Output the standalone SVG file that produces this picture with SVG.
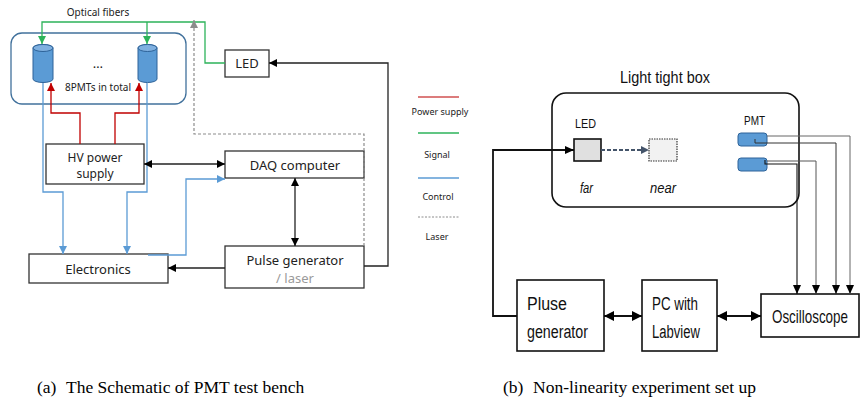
<svg xmlns="http://www.w3.org/2000/svg" width="861" height="403" viewBox="0 0 861 403">
<defs>
<marker id="ak" markerUnits="userSpaceOnUse" markerWidth="9" markerHeight="9" refX="8" refY="4" orient="auto-start-reverse"><path d="M0,0 L8,4 L0,8 z" fill="#000"/></marker>
<marker id="ab" markerUnits="userSpaceOnUse" markerWidth="9" markerHeight="9" refX="8" refY="4" orient="auto"><path d="M0,0 L8,4 L0,8 z" fill="#5B9BD5"/></marker>
<marker id="ag" markerUnits="userSpaceOnUse" markerWidth="9" markerHeight="9" refX="8" refY="4" orient="auto"><path d="M0,0 L8,4 L0,8 z" fill="#2DB35A"/></marker>
<marker id="ar" markerUnits="userSpaceOnUse" markerWidth="9" markerHeight="9" refX="8" refY="4" orient="auto"><path d="M0,0 L8,4 L0,8 z" fill="#C00000"/></marker>
<marker id="ay" markerUnits="userSpaceOnUse" markerWidth="9" markerHeight="9" refX="8" refY="4" orient="auto"><path d="M0,0 L8,4 L0,8 z" fill="#8C8C8C"/></marker>
<marker id="as" markerUnits="userSpaceOnUse" markerWidth="9" markerHeight="9" refX="8" refY="4" orient="auto"><path d="M0,0 L8,4 L0,8 z" fill="#44546A"/></marker>
<marker id="ad" markerUnits="userSpaceOnUse" markerWidth="10" markerHeight="12" refX="9" refY="4" orient="auto"><path d="M0,0 L9,4 L0,8 z" fill="#000"/></marker>
<marker id="aw" markerUnits="userSpaceOnUse" markerWidth="11" markerHeight="11" refX="10" refY="5" orient="auto-start-reverse"><path d="M0,0 L10,5 L0,10 z" fill="#000"/></marker>
</defs>
<style>
.box{fill:#fff;stroke:#333;stroke-width:1.3}
.t{font-family:"Noto Sans","Open Sans",sans-serif;fill:#222;text-anchor:middle}
.n{font-family:"Liberation Sans Narrow","Liberation Sans",sans-serif;fill:#111}
.k{fill:none;stroke:#222;stroke-width:1.3}
.bl{fill:none;stroke:#5B9BD5;stroke-width:1.3}
.gr{fill:none;stroke:#2DB35A;stroke-width:1.3}
.rd{fill:none;stroke:#C00000;stroke-width:1.3}
.ls{fill:none;stroke:#8C8C8C;stroke-width:1.2;stroke-dasharray:3,2}
.pmt{fill:#5B9BD5;stroke:#2E6399;stroke-width:1}
.cap{font-family:"Liberation Serif",serif;font-size:17.5px;fill:#000}
</style>

<!-- ===== (a) ===== -->
<g id="pmt-enclosure">
<rect x="11" y="33" width="175" height="71" rx="11" fill="none" stroke="#41719C" stroke-width="1.3"/>
<path class="pmt" d="M33,48 V79 A10,3.5 0 0 0 53,79 V48 A10,3.5 0 0 0 33,48 z"/>
<ellipse cx="43" cy="48" rx="10" ry="3.5" fill="#7FB0E0" stroke="#2E6399" stroke-width="1"/>
<path class="pmt" d="M138,48 V79 A9.5,3.5 0 0 0 157,79 V48 A9.5,3.5 0 0 0 138,48 z"/>
<ellipse cx="147.5" cy="48" rx="9.5" ry="3.5" fill="#7FB0E0" stroke="#2E6399" stroke-width="1"/>
<text class="t" x="98" y="68" font-size="13">…</text>
<text class="t" x="98" y="91" font-size="10">8PMTs in total</text>
</g>
<text class="t" x="98" y="16" font-size="10">Optical fibers</text>

<g id="led-a"><rect class="box" x="225" y="50" width="44" height="27"/><text class="t" x="247" y="68" font-size="13">LED</text></g>
<g id="hv"><rect class="box" x="46" y="144" width="98" height="40"/><text class="t" x="95" y="162" font-size="12">HV power</text><text class="t" x="95" y="178" font-size="12">supply</text></g>
<g id="daq"><rect class="box" x="225" y="151" width="139" height="27"/><text class="t" x="295" y="169.5" font-size="13">DAQ computer</text></g>
<g id="electronics"><rect class="box" x="29" y="254" width="139" height="29"/><text class="t" x="98" y="273.5" font-size="13">Electronics</text></g>
<g id="pulse"><rect class="box" x="225" y="246" width="139" height="42"/><text class="t" x="295" y="265" font-size="13">Pulse generator</text><text class="t" x="295" y="283" font-size="13" style="fill:#9A9A9A">/ laser</text></g>

<g id="legend">
<line x1="418" y1="97" x2="459" y2="97" stroke="#D05050" stroke-width="1.3"/>
<text class="t" x="440" y="115" font-size="9">Power supply</text>
<line x1="418" y1="133" x2="459" y2="133" stroke="#2DB35A" stroke-width="1.3"/>
<text class="t" x="437" y="158" font-size="9">Signal</text>
<line x1="418" y1="178" x2="459" y2="178" stroke="#5B9BD5" stroke-width="1.3"/>
<text class="t" x="438" y="200" font-size="9">Control</text>
<line x1="418" y1="217" x2="459" y2="217" stroke="#8C8C8C" stroke-width="1" stroke-dasharray="2,1.5"/>
<text class="t" x="437" y="240" font-size="9">Laser</text>
</g>

<g id="connectors-a">
<path class="gr" d="M225,63 H205 V22 H42 V44" marker-end="url(#ag)"/>
<path class="gr" d="M147,22 V44" marker-end="url(#ag)"/>
<path class="rd" d="M80,144 V113 H51 V83" marker-end="url(#ar)"/>
<path class="rd" d="M115,144 V113 H139 V83" marker-end="url(#ar)"/>
<path class="bl" d="M43,83 V192 H63 V254" marker-end="url(#ab)"/>
<path class="bl" d="M147,83 V192 H127 V254" marker-end="url(#ab)"/>
<path class="bl" d="M148,255 H186 V179 H225" marker-end="url(#ab)"/>
<path class="k" d="M144,164 H225" marker-start="url(#ak)" marker-end="url(#ak)"/>
<path class="k" d="M295,178 V246" marker-start="url(#ak)" marker-end="url(#ak)"/>
<path class="k" d="M225,268 H168" marker-end="url(#ak)"/>
<path class="k" d="M364,266 H388 V63 H269" marker-end="url(#ak)"/>
<path class="ls" d="M364,246 V134 H194 V20" marker-end="url(#ay)"/>
</g>

<!-- ===== (b) ===== -->
<text class="n" x="620" y="83" font-size="17" textLength="90" lengthAdjust="spacingAndGlyphs">Light tight box</text>
<g id="box-b"><rect x="552" y="93" width="247" height="114" rx="14" fill="none" stroke="#111" stroke-width="1.6"/></g>
<g id="led-b">
<text class="n" x="575" y="128" font-size="13" textLength="21" lengthAdjust="spacingAndGlyphs">LED</text>
<rect x="574" y="139" width="27" height="22" fill="#E0E0E0" stroke="#111" stroke-width="1.6"/>
<text class="n" x="580" y="193" font-size="14" font-style="italic" textLength="13" lengthAdjust="spacingAndGlyphs">far</text>
</g>
<g id="near">
<rect x="649" y="139" width="28" height="22" fill="#F2F2F2" stroke="#333" stroke-width="1.2" stroke-dasharray="1.5,1"/>
<text class="n" x="650" y="193" font-size="14" font-style="italic" textLength="26" lengthAdjust="spacingAndGlyphs">near</text>
</g>
<g id="pmt-b">
<text class="n" x="744" y="125" font-size="13" textLength="21" lengthAdjust="spacingAndGlyphs">PMT</text>
<rect class="pmt" x="738" y="133" width="29" height="13" rx="3"/>
<rect class="pmt" x="738" y="158" width="29" height="13" rx="3"/>
</g>
<g id="pluse"><rect x="517" y="280" width="87" height="71" fill="#fff" stroke="#111" stroke-width="1.6"/>
<text class="n" x="527" y="310" font-size="18" textLength="40" lengthAdjust="spacingAndGlyphs">Pluse</text>
<text class="n" x="527" y="338" font-size="18" textLength="61" lengthAdjust="spacingAndGlyphs">generator</text></g>
<g id="pc"><rect x="642" y="280" width="75" height="71" fill="#fff" stroke="#111" stroke-width="1.6"/>
<text class="n" x="652" y="310" font-size="18" textLength="46" lengthAdjust="spacingAndGlyphs">PC with</text>
<text class="n" x="652" y="338" font-size="18" textLength="48" lengthAdjust="spacingAndGlyphs">Labview</text></g>
<g id="osc"><rect x="761" y="294" width="98" height="43" fill="#fff" stroke="#111" stroke-width="1.6"/>
<text class="n" transform="translate(772,323) scale(0.745,1)" x="0" y="0" font-size="18">Oscilloscope</text></g>

<g id="connectors-b">
<path d="M517,316 H493 V150 H574" fill="none" stroke="#111" stroke-width="1.8" marker-end="url(#ad)"/>
<path d="M601,150 H649" fill="none" stroke="#44546A" stroke-width="2" stroke-dasharray="4,2" marker-end="url(#as)"/>
<path d="M767,136 H850 V294" fill="none" stroke="#666" stroke-width="1" marker-end="url(#ad)"/>
<path d="M755,139 V143 H836 V294" fill="none" stroke="#333" stroke-width="1" marker-end="url(#ad)"/>
<path d="M767,161 H816 V294" fill="none" stroke="#555" stroke-width="1" marker-end="url(#ad)"/>
<path d="M765,160 V164 H797 V294" fill="none" stroke="#111" stroke-width="1.1" marker-end="url(#ad)"/>
<path d="M604,316 H642" fill="none" stroke="#111" stroke-width="2" marker-start="url(#aw)" marker-end="url(#aw)"/>
<path d="M717,316 H761" fill="none" stroke="#111" stroke-width="2" marker-start="url(#aw)" marker-end="url(#aw)"/>
</g>

<text class="cap" y="393"><tspan x="37">(a)</tspan><tspan x="66">The Schematic of PMT test bench</tspan></text>
<text class="cap" y="393"><tspan x="503">(b)</tspan><tspan x="533">Non-linearity experiment set up</tspan></text>
</svg>
